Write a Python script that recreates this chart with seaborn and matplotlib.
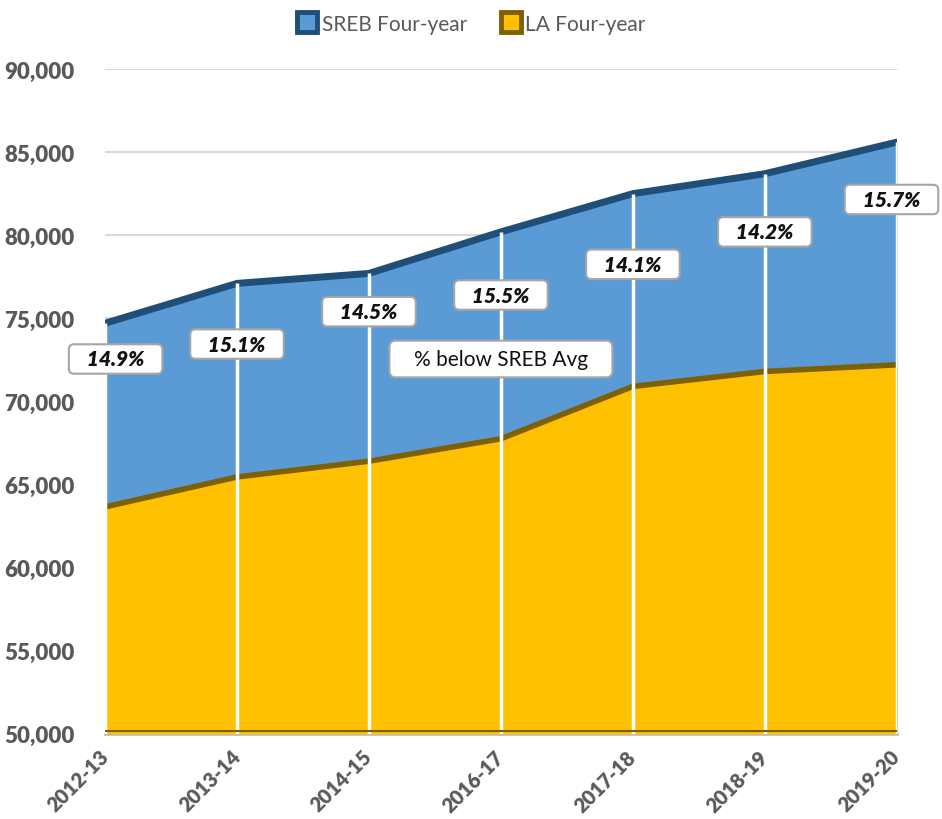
import matplotlib as mpl
import matplotlib.pyplot as plt
import seaborn as sns
import pandas as pd
from matplotlib.lines import Line2D

sns.set_style("white")
mpl.rcParams["font.family"] = ["Lato", "DejaVu Sans"]

years = ["2012-13", "2013-14", "2014-15", "2016-17", "2017-18", "2018-19", "2019-20"]
sreb = [74700, 77100, 77700, 80200, 82500, 83700, 85600]
la = [63650, 65450, 66400, 67750, 70900, 71800, 72200]
pct_labels = ["14.9%", "15.1%", "14.5%", "15.5%", "14.1%", "14.2%", "15.7%"]
# where each % box sits (data units)
label_x = [0.08, 1.0, 2.0, 3.0, 4.0, 5.0, 5.96]
label_y = [72550, 73450, 75400, 76400, 78250, 80200, 82150]

df = pd.DataFrame({"x": range(len(years)), "SREB Four-year": sreb, "LA Four-year": la})

blue_fill, blue_edge = "#5B9BD5", "#1F4E79"
gold_fill, gold_edge = "#FFC000", "#7F6000"
grey_txt = "#595959"

fig, ax = plt.subplots(figsize=(9.42, 8.2), dpi=100)
fig.subplots_adjust(left=0.1115, right=0.952, top=0.9146, bottom=0.104)

ax.set_ylim(50000, 90000)
ax.set_xlim(0, 6)
ax.set_yticks(range(50000, 90001, 5000))
ax.yaxis.grid(True, color="#d9d9d9", linewidth=1.5, zorder=0)
ax.set_axisbelow(True)

ax.fill_between(df["x"], 50000, df["SREB Four-year"], color=blue_fill, lw=0, zorder=2)
ax.fill_between(df["x"], 50000, df["LA Four-year"], color=gold_fill, lw=0, zorder=3)
sns.lineplot(data=df, x="x", y="SREB Four-year", color=blue_edge, lw=5, ax=ax, zorder=4)
sns.lineplot(data=df, x="x", y="LA Four-year", color=gold_edge, lw=4, ax=ax, zorder=4)
ax.vlines(df["x"], 50000, df["SREB Four-year"], color="white", lw=2.5, zorder=5)
ax.axhline(50150, color=gold_edge, lw=1.5, zorder=5)

for s in ["top", "right", "left"]:
    ax.spines[s].set_visible(False)
ax.spines["bottom"].set_color("#bfbfbf")
ax.spines["bottom"].set_linewidth(2)

ax.set_xticks(df["x"])
ax.set_xticklabels(years, rotation=45, ha="right", va="center", rotation_mode="anchor",
                   fontsize=14.5, fontweight="heavy", color=grey_txt)
ax.tick_params(axis="x", pad=14, length=0)
ax.set_yticks(ax.get_yticks())
ax.set_yticklabels([f"{int(v):,}" for v in ax.get_yticks()],
                   fontsize=16, fontweight="heavy", color=grey_txt)
ax.tick_params(axis="y", pad=22, length=0)
ax.set_xlabel("")
ax.set_ylabel("")

for lx, ly, t in zip(label_x, label_y, pct_labels):
    ax.text(lx, ly, f"   {t}   ", ha="center", va="center", fontsize=15,
            fontweight="heavy", style="italic", color="#111111", zorder=7,
            bbox=dict(boxstyle="round,pad=0.25,rounding_size=0.25", fc="white",
                      ec="#a6a6a6", lw=1.5), clip_on=False)

ax.text(3.0, 72550, "   % below SREB Avg   ", ha="center", va="center", fontsize=15,
        color="#111111", zorder=7,
        bbox=dict(boxstyle="round,pad=0.4,rounding_size=0.3", fc="white",
                  ec="#a6a6a6", lw=1.5))

handles = [
    Line2D([], [], marker="s", ls="", markersize=14, markerfacecolor=blue_fill,
           markeredgecolor=blue_edge, markeredgewidth=3.5),
    Line2D([], [], marker="s", ls="", markersize=14, markerfacecolor=gold_fill,
           markeredgecolor=gold_edge, markeredgewidth=3.5),
]
leg = fig.legend(handles, ["SREB Four-year", "LA Four-year"], loc="upper center",
                 bbox_to_anchor=(0.5, 1.005), ncol=2, frameon=False, fontsize=15,
                 handletextpad=0.2, columnspacing=1.6, handlelength=1.0)
for t in leg.get_texts():
    t.set_color(grey_txt)

fig.savefig("out.png", dpi=100)
